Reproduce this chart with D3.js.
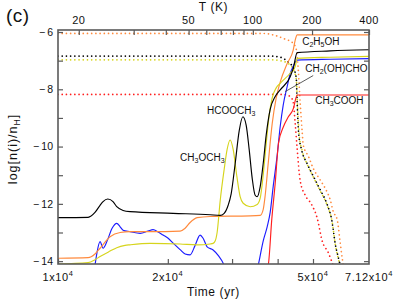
<!DOCTYPE html>
<html><head><meta charset="utf-8">
<script src="https://cdn.jsdelivr.net/npm/d3@7"></script>
<style>
body{margin:0;background:#fff}
svg{display:block}
text{font-family:"Liberation Sans",Arial,Helvetica,sans-serif;fill:#111}
</style>
</head><body>
<svg id="c" width="399" height="303"></svg>
<script>
// ---------- data ----------
const timeDomain = [1e4, 7.12e4];
const valueDomain = [-14.1, -5.93];
const timeTicks = [1e4, 2e4, 3e4, 4e4, 5e4];
const timeLabels = [[1e4, "1"], [2e4, "2"], [5e4, "5"], [7.12e4, "7.12"]];
const tempTicks = [20, 30, 40, 50, 60, 70, 80, 90, 100, 200, 400];
const tempLabels = [20, 50, 100, 200, 400];
const yTicks = [-14, -13, -12, -11, -10, -9, -8, -7, -6];
const yLabels = [-14, -12, -10, -8, -6];
// warm-up model: T = 10 + 390 (t / tmax)^2
const T0 = 10, Tmax = 400, tmax = 7.12e4;

// gas phase (solid)
const hcooch3Gas = [[1.0e4,-12.48],[1.209e4,-12.47],[1.263e4,-12.30],[1.304e4,-12.05],[1.329e4,-11.92],[1.369e4,-11.83],[1.415e4,-11.92],[1.449e4,-12.10],[1.508e4,-12.23],[1.576e4,-12.27],[2.068e4,-12.33],[2.612e4,-12.38],[2.783e4,-12.40],[2.854e4,-12.33],[2.927e4,-12.05],[2.983e4,-11.65],[3.059e4,-10.6],[3.138e4,-9.45],[3.212e4,-8.96],[3.279e4,-9.25],[3.342e4,-10.1],[3.406e4,-11.1],[3.471e4,-11.70],[3.515e4,-11.75],[3.583e4,-11.4],[3.651e4,-10.6],[3.721e4,-9.6],[3.816e4,-8.7],[3.939e4,-8.25],[4.065e4,-8.02],[4.330e4,-7.56],[4.413e4,-7.27],[4.526e4,-6.72],[5.575e4,-6.66],[7.12e4,-6.62]];
const ch3och3Gas = [[1.0e4,-14.1],[1.209e4,-14.05],[1.263e4,-13.95],[1.304e4,-13.84],[1.389e4,-13.65],[1.449e4,-13.53],[1.527e4,-13.45],[1.576e4,-13.43],[1.788e4,-13.38],[2.161e4,-13.40],[2.406e4,-13.43],[2.612e4,-13.40],[2.662e4,-13.38],[2.696e4,-13.3],[2.73e4,-13.0],[2.783e4,-11.9],[2.854e4,-10.8],[2.908e4,-10.1],[2.964e4,-9.77],[3.021e4,-10.1],[3.093e4,-11.05],[3.157e4,-11.75],[3.218e4,-11.98],[3.363e4,-12.10],[3.515e4,-12.02],[3.583e4,-11.80],[3.651e4,-11.0],[3.721e4,-9.9],[3.792e4,-8.9],[3.865e4,-8.3],[3.964e4,-7.95],[4.065e4,-7.79],[4.330e4,-7.44],[4.469e4,-7.21],[4.526e4,-6.92],[5.575e4,-6.88],[7.12e4,-6.85]];
const c2h5ohGas = [[1.0e4,-13.90],[1.209e4,-13.88],[1.263e4,-13.75],[1.304e4,-13.55],[1.389e4,-13.15],[1.480e4,-13.00],[1.576e4,-12.97],[1.788e4,-12.97],[2.161e4,-12.95],[2.231e4,-12.85],[2.302e4,-12.65],[2.406e4,-12.48],[2.612e4,-12.44],[3.363e4,-12.42],[3.583e4,-12.40],[3.651e4,-12.2],[3.698e4,-11.7],[3.768e4,-10.6],[3.865e4,-9.2],[3.964e4,-8.3],[4.065e4,-7.75],[4.249e4,-7.10],[4.413e4,-6.63],[4.469e4,-6.28],[4.526e4,-6.10],[5.575e4,-6.10],[7.12e4,-6.10]];
const ch2ohchoGas = [[1.263e4,-14.15],[1.279e4,-13.7],[1.304e4,-13.32],[1.329e4,-13.55],[1.363e4,-13.3],[1.407e4,-12.85],[1.449e4,-12.68],[1.480e4,-12.80],[1.508e4,-12.92],[1.576e4,-12.97],[1.679e4,-13.03],[1.766e4,-12.95],[1.822e4,-12.90],[1.881e4,-12.98],[1.941e4,-13.09],[2.004e4,-13.20],[2.068e4,-13.37],[2.161e4,-13.60],[2.231e4,-13.75],[2.302e4,-13.78],[2.376e4,-13.45],[2.452e4,-13.09],[2.499e4,-13.20],[2.563e4,-13.50],[2.662e4,-13.61],[2.748e4,-13.80],[2.854e4,-14.15],[2.927e4,-14.6],[3.471e4,-14.6],[3.538e4,-14.15],[3.651e4,-13.3],[3.744e4,-12.8],[3.816e4,-12.3],[3.889e4,-11.4],[3.989e4,-10.3],[4.065e4,-9.3],[4.143e4,-8.55],[4.249e4,-7.9],[4.330e4,-7.45],[4.413e4,-7.2],[4.526e4,-6.98],[5.575e4,-6.95],[7.12e4,-6.93]];
const ch3coohGas = [[3.60e4,-14.6],[3.768e4,-14.15],[3.857e4,-12.5],[3.939e4,-11.28],[4.022e4,-9.88],[4.151e4,-9.3],[4.28e4,-8.96],[4.421e4,-8.66],[4.469e4,-8.4],[4.526e4,-8.2],[5.575e4,-8.2],[7.12e4,-8.2]];

// grain surface (dotted)
const c2h5ohIce = [[1e4,-6.05],[3.628e4,-6.05],[3.939e4,-6.12],[4.196e4,-6.25],[4.385e4,-6.36],[4.498e4,-6.6],[4.555e4,-7.3],[4.613e4,-8.5],[4.671e4,-9.5],[4.701e4,-9.94],[4.861e4,-10.35],[5.007e4,-10.76],[5.234e4,-11.17],[5.402e4,-11.46],[5.575e4,-11.86],[5.682e4,-12.27],[5.827e4,-12.56],[5.939e4,-13.38],[6.014e4,-13.9],[6.052e4,-14.15]];
const hcooch3Ice = [[1e4,-6.84],[3.816e4,-6.84],[4.065e4,-6.88],[4.276e4,-7.05],[4.413e4,-7.25],[4.498e4,-7.6],[4.526e4,-8.5],[4.564e4,-9.5],[4.654e4,-10.12],[4.812e4,-10.58],[5.017e4,-11.05],[5.234e4,-11.51],[5.46e4,-12.0],[5.635e4,-12.6],[5.754e4,-13.4],[5.875e4,-13.9],[5.939e4,-14.15]];
const ch3och3Ice = [[1e4,-6.97],[3.816e4,-6.97],[4.065e4,-7.0],[4.276e4,-7.1],[4.413e4,-7.3],[4.498e4,-7.65],[4.54e4,-8.7],[4.584e4,-9.6],[4.671e4,-10.15],[4.821e4,-10.62],[5.007e4,-11.05],[5.234e4,-11.55],[5.47e4,-12.05],[5.646e4,-12.65],[5.754e4,-13.4],[5.864e4,-13.9],[5.939e4,-14.15]];
const ch3coohIce = [[1e4,-8.18],[4.143e4,-8.18],[4.33e4,-8.25],[4.413e4,-8.45],[4.469e4,-9.2],[4.526e4,-10.1],[4.613e4,-11.2],[4.761e4,-11.7],[4.944e4,-12.0],[5.135e4,-12.5],[5.3e4,-13.3],[5.505e4,-13.7],[5.682e4,-14.15]];

// labels: [time, value, parts]
const speciesLabels = [
  [4.671e4, -6.45, [["C"],["2",1],["H"],["5",1],["OH"]]],
  [4.761e4, -7.38, [["CH"],["2",1],["(OH)CHO"]]],
  [5.07e4, -8.51, [["CH"],["3",1],["COOH"]]],
  [2.563e4, -8.86, [["HCOOCH"],["3",1]]],
  [2.161e4, -10.5, [["CH"],["3",1],["OCH"],["3",1]]]
];
const pointer = [[5.007e4, -7.52], [4.196e4, -8.08]];

// ---------- drawing ----------
const svg = d3.select("#c");
const L = 58, R = 369, Tp = 30, B = 264;
const x = d3.scaleLog().domain(timeDomain).range([L, R]);
const y = d3.scaleLinear().domain(valueDomain).range([B, Tp]);
const tOfT = T => tmax * Math.sqrt((T - T0) / (Tmax - T0));

const col = {orange:"#ff8a3d", yellow:"#d6d41c", black:"#000", blue:"#1c1cff", red:"#ff1e1e"};

svg.append("clipPath").attr("id","clip").append("rect")
  .attr("x",L).attr("y",Tp).attr("width",R-L).attr("height",B-Tp);
const plot = svg.append("g").attr("clip-path","url(#clip)");
const line = d3.line().x(d=>x(d[0])).y(d=>y(d[1])).curve(d3.curveMonotoneX);

const dotted = [[c2h5ohIce,col.orange],[ch3och3Ice,col.yellow],[hcooch3Ice,col.black],[ch3coohIce,col.red]];
dotted.forEach(([d,c])=>plot.append("path").attr("d",line(d)).attr("fill","none")
  .attr("stroke",c).attr("stroke-width",1.7).attr("stroke-linecap","round").attr("stroke-dasharray","0.01 4.2"));
const solid = [[ch2ohchoGas,col.blue],[ch3coohGas,col.red],[c2h5ohGas,col.orange],[ch3och3Gas,col.yellow],[hcooch3Gas,col.black]];
solid.forEach(([d,c])=>plot.append("path").attr("d",line(d)).attr("fill","none")
  .attr("stroke",c).attr("stroke-width",1.15));

// axes
const axCol = "#5a5a5a";
function styleAxis(g){ g.select(".domain").remove(); g.selectAll(".tick line").attr("stroke",axCol).attr("stroke-width",1.2); g.selectAll(".tick text").remove(); }
svg.append("g").attr("transform",`translate(0,${B})`)
  .call(d3.axisBottom(x).tickValues(timeTicks).tickSizeInner(-5).tickSizeOuter(0)).call(styleAxis);
svg.append("g").attr("transform",`translate(0,${Tp})`)
  .call(d3.axisTop(x).tickValues(tempTicks.map(tOfT)).tickSizeInner(-5).tickSizeOuter(0)).call(styleAxis);
svg.append("g").attr("transform",`translate(${L},0)`)
  .call(d3.axisLeft(y).tickValues(yTicks).tickSizeInner(-5).tickSizeOuter(0)).call(styleAxis);
svg.append("g").attr("transform",`translate(${R},0)`)
  .call(d3.axisRight(y).tickValues(yTicks).tickSizeInner(-5).tickSizeOuter(0)).call(styleAxis);
svg.append("rect").attr("x",L).attr("y",Tp).attr("width",R-L).attr("height",B-Tp)
  .attr("fill","none").attr("stroke",axCol).attr("stroke-width",1.6);

// tick labels
svg.append("g").selectAll("text").data(yLabels).join("text")
  .attr("x",L-5).attr("y",d=>y(d)+3.8).attr("text-anchor","end")
  .attr("font-size",10.5).text(d=>"\u2212\u2009"+Math.abs(d));
svg.append("g").selectAll("text").data(tempLabels).join("text")
  .attr("x",d=>x(tOfT(d))).attr("y",24).attr("text-anchor","middle")
  .attr("font-size",11).attr("letter-spacing",0.4).text(d=>d);
const xl = svg.append("g").selectAll("text").data(timeLabels).join("text")
  .attr("x",d=>x(d[0])).attr("y",281).attr("text-anchor","middle")
  .attr("font-size",11).attr("letter-spacing",0.6);
xl.append("tspan").text(d=>d[1]+"x10");
xl.append("tspan").attr("font-size",7.5).attr("dy",-5).text("4");

// titles
svg.append("text").attr("x",(L+R)/2).attr("y",296).attr("text-anchor","middle")
  .attr("font-size",12).attr("letter-spacing",0.6).text("Time (yr)");
svg.append("text").attr("x",(L+R)/2).attr("y",11).attr("text-anchor","middle")
  .attr("font-size",12).attr("letter-spacing",0.6).text("T (K)");
svg.append("text").attr("x",6).attr("y",22).attr("font-size",19).attr("letter-spacing",0.5).text("(c)");
const yl = svg.append("text").attr("transform","translate(17,149) rotate(-90)")
  .attr("text-anchor","middle").attr("font-size",12.5).attr("letter-spacing",1);
yl.append("tspan").text("log[n(i)/n");
yl.append("tspan").attr("font-size",8.5).attr("dy",2.5).text("H");
yl.append("tspan").attr("dy",-2.5).text("]");

// species labels
speciesLabels.forEach(([t,v,parts])=>{
  const tx = svg.append("text").attr("x",x(t)).attr("y",y(v)).attr("font-size",10);
  let sub=false;
  parts.forEach(([s,isSub])=>{
    const ts = tx.append("tspan").text(s);
    if(isSub && !sub){ ts.attr("font-size",7).attr("dy",2.5); sub=true; }
    else if(!isSub && sub){ ts.attr("dy",-2.5); sub=false; }
    else if(isSub){ ts.attr("font-size",7); }
  });
});
svg.append("line").attr("x1",x(pointer[0][0])).attr("y1",y(pointer[0][1]))
  .attr("x2",x(pointer[1][0])).attr("y2",y(pointer[1][1]))
  .attr("stroke","#333").attr("stroke-width",0.8);
</script>
</body></html>
